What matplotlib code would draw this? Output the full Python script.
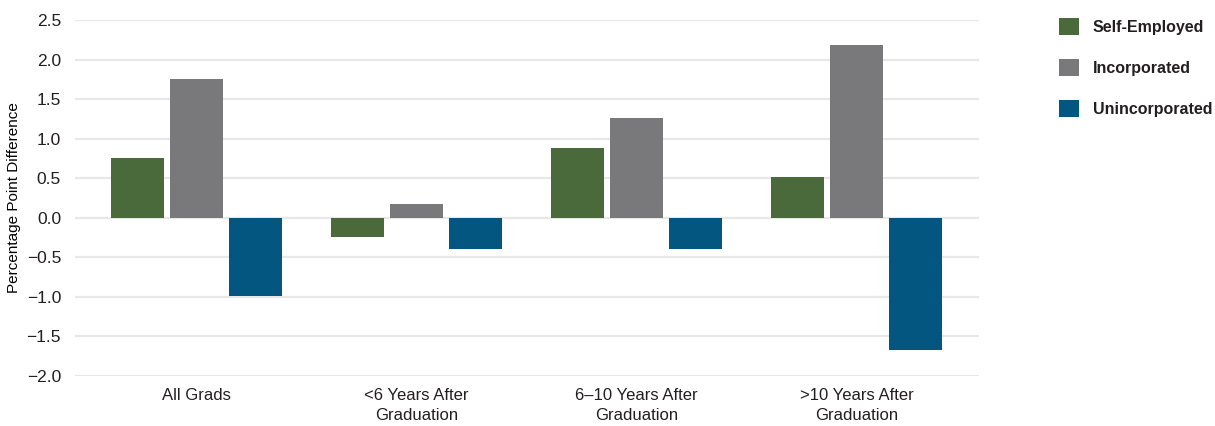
"""
Percentage point difference by years since graduation.
"""

import numpy as np
import matplotlib
matplotlib.use('Agg')
import matplotlib.pyplot as plt

groups = ['All Grads', '<6 Years After\nGraduation', '6\u201310 Years After\nGraduation',
          '>10 Years After\nGraduation']
series = ['Self-Employed', 'Incorporated', 'Unincorporated']
self_employed = [0.76, -0.24, 0.88, 0.51]
incorporated = [1.75, 0.18, 1.26, 2.18]
unincorporated = [-0.99, -0.40, -0.39, -1.67]
y_ticks = [-2.0, -1.5, -1.0, -0.5, 0.0, 0.5, 1.0, 1.5, 2.0, 2.5]

colors = ['#4a6a3c', '#79797b', '#02567f']
text_color = '#231f20'


def main():
    plt.rcParams['font.family'] = ['Liberation Sans', 'DejaVu Sans']
    plt.rcParams['text.color'] = text_color

    fig = plt.figure(figsize=(12.15, 4.26), dpi=100)
    ax = fig.add_axes([75 / 1215, 50 / 426, (979 - 75) / 1215, 356 / 426])

    x = np.arange(len(groups))
    width = 0.241
    step = 0.268
    values = [self_employed, incorporated, unincorporated]
    handles = []
    for i, (vals, name) in enumerate(zip(values, series)):
        bars = ax.bar(x + (i - 1) * step, vals, width, color=colors[i],
                      label=name, zorder=3)
        handles.append(bars)

    ax.set_xlim(-0.552, 3.557)
    ax.set_ylim(-2.0, 2.5)
    ax.set_yticks(y_ticks)
    ax.set_yticklabels([f'{t:.1f}'.replace('-', '\u2212') for t in y_ticks],
                       fontsize=12.5)
    ax.set_xticks(x)
    ax.set_xticklabels(groups, fontsize=12, linespacing=1.4)
    ax.tick_params(length=0, colors=text_color, pad=10)
    ax.tick_params(axis='x', pad=9)
    ax.yaxis.grid(True, color='#e8e8e8', lw=1.6, zorder=0)
    for s in ax.spines.values():
        s.set_visible(False)
    ax.set_ylabel('Percentage Point Difference', fontsize=11)
    ax.yaxis.set_label_coords(-0.06, 0.5)

    fig.legend(handles=handles, labels=series, loc='upper left',
               bbox_to_anchor=(1045 / 1215, 1 - 4 / 426), frameon=False,
               handlelength=1.25, handleheight=1.25, handletextpad=0.85,
               labelspacing=1.5, prop={'weight': 'bold', 'size': 11.5})

    fig.savefig('out.png', dpi=100)


if __name__ == "__main__":
    main()
